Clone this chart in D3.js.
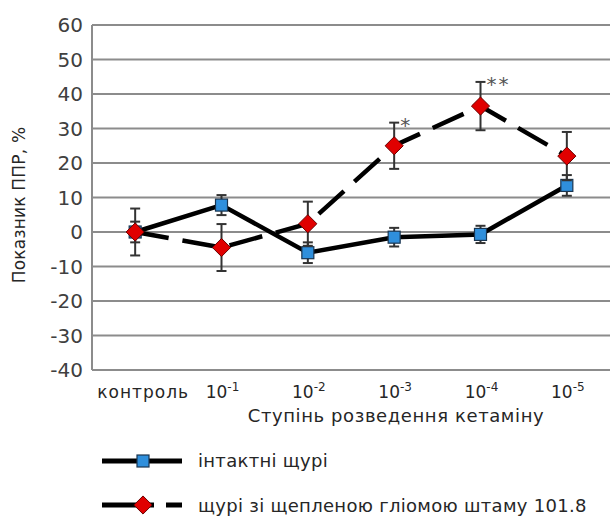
<!DOCTYPE html>
<html>
<head>
<meta charset="utf-8">
<script src="https://cdn.jsdelivr.net/npm/d3@7"></script>
<style>
  body { margin: 0; background: #fff; }
  text { font-family: "DejaVu Sans", Verdana, sans-serif; fill: #262626; }
</style>
</head>
<body>
<div id="chart"></div>
<script>
(function() {
  var width = 616, height = 517;
  var margin = { top: 25, left: 92, right: 6, bottom: 147 };

  // data
  var categories = ["контроль", "-1", "-2", "-3", "-4", "-5"];
  var intact = [0, 7.8, -6, -1.5, -0.7, 13.5];
  var intactErr = [3, 2.9, 3, 2.7, 2.5, 3];
  var glioma = [0, -4.5, 2.4, 25, 36.5, 22];
  var gliomaErr = [6.8, 6.8, 6.4, 6.7, 7, 7];
  var stars = ["", "", "", "*", "**", ""];
  var yTicks = [60, 50, 40, 30, 20, 10, 0, -10, -20, -30, -40];

  var svg = d3.select("#chart")
    .append("svg")
    .attr("width", width)
    .attr("height", height);

  var x = d3.scaleBand()
    .domain(categories)
    .range([margin.left, width - margin.right]);

  var y = d3.scaleLinear()
    .domain([-40, 60])
    .range([height - margin.bottom, margin.top]);

  function cx(c) { return x(c) + x.bandwidth() / 2; }

  // grid lines
  svg.append("g").selectAll("line")
    .data(yTicks)
    .enter().append("line")
    .attr("x1", margin.left)
    .attr("x2", width - margin.right)
    .attr("y1", function(d) { return y(d); })
    .attr("y2", function(d) { return y(d); })
    .attr("stroke", "#8c8c8c")
    .attr("stroke-width", 2);

  svg.append("line")
    .attr("x1", margin.left).attr("x2", margin.left)
    .attr("y1", y(60)).attr("y2", y(-40))
    .attr("stroke", "#8c8c8c")
    .attr("stroke-width", 2);

  // y tick labels
  svg.append("g").selectAll("text")
    .data(yTicks)
    .enter().append("text")
    .attr("x", 83)
    .attr("y", function(d) { return y(d) + 7; })
    .attr("text-anchor", "end")
    .style("font-size", "20px")
    .style("fill", "#404040")
    .text(function(d) { return d; });

  // x tick labels
  var xl = svg.append("g").selectAll("text")
    .data(categories)
    .enter().append("text")
    .attr("x", function(d, i) { return i == 0 ? cx(d) + 8 : cx(d) + 1; })
    .attr("y", 398)
    .attr("text-anchor", "middle")
    .style("font-size", "17px");
  xl.each(function(d, i) {
    var t = d3.select(this);
    if (i == 0) { t.style("letter-spacing", "1px").text(d); return; }
    t.append("tspan").text("10");
    t.append("tspan").attr("dy", -7).style("font-size", "12px").text(d);
  });

  svg.append("text")
    .attr("x", 396)
    .attr("y", 422)
    .attr("text-anchor", "middle")
    .style("font-size", "18px")
    .style("letter-spacing", "0.6px")
    .text("Ступінь розведення кетаміну");

  svg.append("text")
    .attr("transform", "translate(25,205) rotate(-90)")
    .attr("text-anchor", "middle")
    .style("font-size", "17px")
    .style("letter-spacing", "0.2px")
    .text("Показник ППР, %");

  var line = d3.line()
    .x(function(d, i) { return cx(categories[i]); })
    .y(function(d) { return y(d); });

  function errorBars(vals, errs) {
    var g = svg.append("g").attr("stroke", "#333").attr("stroke-width", 2);
    vals.forEach(function(v, i) {
      var xx = cx(categories[i]);
      g.append("line").attr("x1", xx).attr("x2", xx)
        .attr("y1", y(v - errs[i])).attr("y2", y(v + errs[i]));
      [v - errs[i], v + errs[i]].forEach(function(e) {
        g.append("line").attr("x1", xx - 5).attr("x2", xx + 5)
          .attr("y1", y(e)).attr("y2", y(e));
      });
    });
  }

  // intact rats
  svg.append("path")
    .datum(intact)
    .attr("d", line)
    .attr("fill", "none")
    .attr("stroke", "#000")
    .attr("stroke-width", 4.5);
  errorBars(intact, intactErr);
  svg.append("g").selectAll("rect")
    .data(intact)
    .enter().append("rect")
    .attr("x", function(d, i) { return cx(categories[i]) - 6; })
    .attr("y", function(d) { return y(d) - 6; })
    .attr("width", 12).attr("height", 12)
    .attr("fill", "#2f8fdc")
    .attr("stroke", "#1a3550")
    .attr("stroke-width", 1.2);

  // glioma rats
  svg.append("path")
    .datum(glioma)
    .attr("d", line)
    .attr("fill", "none")
    .attr("stroke", "#000")
    .attr("stroke-width", 4.5)
    .attr("stroke-dasharray", "34,14");
  errorBars(glioma, gliomaErr);
  var diamond = d3.symbol().type(d3.symbolDiamond2).size(210);
  svg.append("g").selectAll("path")
    .data(glioma)
    .enter().append("path")
    .attr("d", diamond)
    .attr("transform", function(d, i) { return "translate(" + cx(categories[i]) + "," + y(d) + ")"; })
    .attr("fill", "#e00000")
    .attr("stroke", "#6a0000")
    .attr("stroke-width", 1);

  // significance marks
  svg.append("g").selectAll("text")
    .data(glioma)
    .enter().append("text")
    .attr("x", function(d, i) { return cx(categories[i]) + 6; })
    .attr("y", function(d, i) { return y(d + gliomaErr[i]) + 9; })
    .style("font-size", "20px")
    .style("letter-spacing", "2px")
    .style("fill", "#555")
    .text(function(d, i) { return stars[i]; });

  // legend
  var legend = svg.append("g");
  legend.append("line")
    .attr("x1", 102).attr("x2", 182).attr("y1", 461).attr("y2", 461)
    .attr("stroke", "#000").attr("stroke-width", 5);
  legend.append("rect")
    .attr("x", 137).attr("y", 455).attr("width", 12).attr("height", 12)
    .attr("fill", "#2f8fdc").attr("stroke", "#1a3550").attr("stroke-width", 1.2);
  legend.append("text")
    .attr("x", 198).attr("y", 467)
    .style("font-size", "18px")
    .style("letter-spacing", "0.3px")
    .text("інтактні щурі");

  legend.append("line")
    .attr("x1", 102).attr("x2", 182).attr("y1", 505).attr("y2", 505)
    .attr("stroke", "#000").attr("stroke-width", 5)
    .attr("stroke-dasharray", "52,12,30");
  legend.append("path")
    .attr("d", diamond)
    .attr("transform", "translate(143,505)")
    .attr("fill", "#e00000").attr("stroke", "#6a0000").attr("stroke-width", 1);
  legend.append("text")
    .attr("x", 198).attr("y", 512)
    .style("font-size", "18px")
    .style("letter-spacing", "0.3px")
    .text("щурі зі щепленою гліомою штаму 101.8");
})();
</script>
</body>
</html>
